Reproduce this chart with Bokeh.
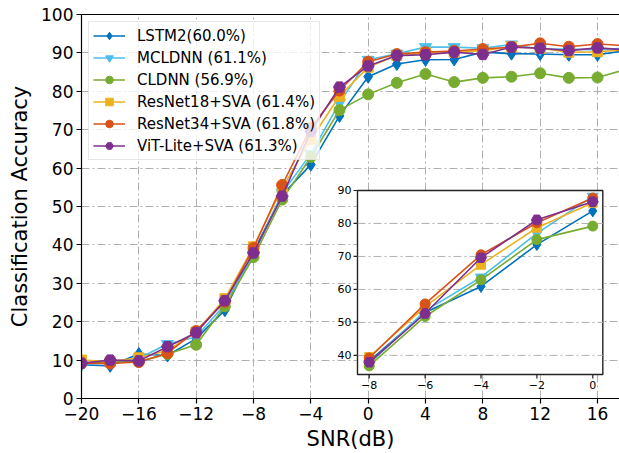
from math import pi
from bokeh.plotting import figure
from bokeh.models import Range1d, LinearAxis, FixedTicker, Legend, LegendItem
from bokeh.core.properties import value
from bokeh.embed import file_html
from bokeh.resources import INLINE

# ---------------- data ----------------
snr = [-20, -18, -16, -14, -12, -10, -8, -6, -4, -2, 0, 2, 4, 6, 8, 10, 12, 14, 16, 18]

lstm2 = [8.8, 8.5, 11.6, 11.2, 15.6, 23.0, 38.3, 53.0, 60.9, 73.6, 83.8, 87.1, 88.2, 88.3, 90.2, 89.8, 89.7, 89.5, 89.5, 90.6]
mcldnn = [9.0, 9.4, 10.5, 14.2, 16.0, 24.5, 37.5, 53.5, 63.7, 77.0, 88.2, 89.8, 91.5, 91.5, 91.2, 92.2, 91.0, 91.0, 90.8, 91.2]
cldnn = [9.2, 9.6, 9.6, 11.6, 14.0, 24.0, 36.8, 51.8, 62.9, 75.1, 79.2, 82.2, 84.5, 82.4, 83.5, 83.8, 84.7, 83.5, 83.6, 85.7]
resnet18 = [10.0, 9.6, 10.6, 12.5, 17.3, 26.0, 39.5, 54.8, 67.5, 78.7, 86.3, 89.3, 90.0, 90.2, 90.6, 91.6, 91.2, 90.2, 90.3, 90.8]
resnet34 = [9.2, 9.1, 9.5, 11.8, 17.6, 25.2, 39.2, 55.6, 70.5, 80.2, 87.7, 89.7, 90.2, 90.5, 91.0, 91.5, 92.5, 91.6, 92.3, 91.9]
vit = [9.2, 10.0, 9.8, 13.5, 17.1, 25.5, 37.9, 52.7, 69.6, 81.1, 86.6, 89.3, 89.5, 90.2, 89.6, 91.5, 91.2, 90.6, 91.3, 90.8]

labels = ["LSTM2(60.0%)", "MCLDNN (61.1%)", "CLDNN (56.9%)",
          "ResNet18+SVA (61.4%)", "ResNet34+SVA (61.8%)", "ViT-Lite+SVA (61.3%)"]

x_ticks = [-20, -16, -12, -8, -4, 0, 4, 8, 12, 16]
x_tick_labels = ["\u221220", "\u221216", "\u221212", "\u22128", "\u22124", "0", "4", "8", "12", "16"]
y_ticks = [0, 10, 20, 30, 40, 50, 60, 70, 80, 90, 100]

inset_x_ticks = [-8, -6, -4, -2, 0]
inset_x_tick_labels = ["\u22128", "\u22126", "\u22124", "\u22122", "0"]
inset_y_ticks = [40, 50, 60, 70, 80, 90]
inset_y_tick_labels = ["40", "50", "60", "70", "80", "90"]

# ---------------- styles ----------------
series = [lstm2, mcldnn, cldnn, resnet18, resnet34, vit]
colors = ["#0072BD", "#4DBEEE", "#77AC30", "#EDB120", "#D95319", "#7E2F8E"]
markers = ["diamond", "inverted_triangle", "circle", "square", "circle", "hex"]
msizes = [13, 12, 11, 10, 11, 12]
FONT = "DejaVu Sans"
GRID_DASH = "8 3 2 3"

p = figure(width=619, height=453,
           x_range=Range1d(-20, 17.535), y_range=Range1d(0, 100),
           output_backend="svg", toolbar_location=None,
           min_border_left=81, min_border_right=0, min_border_top=14, min_border_bottom=55)
p.outline_line_color = None
p.background_fill_color = "white"

p.xaxis.ticker = FixedTicker(ticks=x_ticks)
p.xaxis.major_label_overrides = {t: l for t, l in zip(x_ticks, x_tick_labels)}
p.yaxis.ticker = FixedTicker(ticks=y_ticks)
p.xaxis.axis_label = "SNR(dB)"
p.yaxis.axis_label = "Classification Accuracy"
for ax in (p.xaxis, p.yaxis):
    ax.axis_label_text_font = FONT
    ax.axis_label_text_font_size = "21px"
    ax.axis_label_text_font_style = "normal"
    ax.axis_label_text_color = "black"
    ax.major_label_text_font = FONT
    ax.major_label_text_font_size = "17px"
    ax.major_label_text_color = "black"
    ax.axis_line_color = "black"
    ax.axis_line_width = 1.2
    ax.major_tick_line_color = "black"
    ax.major_tick_line_width = 1.2
    ax.major_tick_out = 5
    ax.major_tick_in = 0
    ax.minor_tick_line_color = None
    ax.major_label_standoff = 3
p.xaxis.axis_label_standoff = 4
p.yaxis.axis_label_standoff = 6

top_axis = LinearAxis(ticker=FixedTicker(ticks=[]), axis_line_color="black", axis_line_width=1.2,
                      major_tick_line_color=None, minor_tick_line_color=None,
                      major_label_text_font_size="0px")
p.add_layout(top_axis, "above")

p.xgrid.ticker = FixedTicker(ticks=x_ticks)
p.ygrid.ticker = FixedTicker(ticks=y_ticks)
for g in (p.xgrid, p.ygrid):
    g.grid_line_color = "#b0b0b0"
    g.grid_line_dash = GRID_DASH
    g.grid_line_width = 1

items = []
for ys, c, m, s, lab in zip(series, colors, markers, msizes, labels):
    lr = p.line(snr, ys, line_color=c, line_width=1.6)
    sr = p.scatter(snr, ys, marker=m, size=s, fill_color=c, line_color=c)
    items.append(LegendItem(label=lab, renderers=[lr, sr]))

# ---------------- inset ----------------
ix0, ix1 = -8.42, 0.36
iy0, iy1 = 34.2, 90.0
fx0, fx1 = 0.513, 0.969
fy0, fy1 = 0.0625, 0.5417
span_x = (ix1 - ix0) / (fx1 - fx0)
span_y = (iy1 - iy0) / (fy1 - fy0)
xs0 = ix0 - fx0 * span_x
ys0 = iy0 - fy0 * span_y
p.extra_x_ranges = {"ix": Range1d(xs0, xs0 + span_x)}
p.extra_y_ranges = {"iy": Range1d(ys0, ys0 + span_y)}
kw = dict(x_range_name="ix", y_range_name="iy")

p.quad(left=[ix0], right=[ix1], bottom=[iy0], top=[iy1],
       fill_color="white", line_color="#222222", line_width=1.4, **kw)
grid_levels = [t for t in inset_y_ticks if t < iy1]
p.segment(x0=[ix0] * len(grid_levels), x1=[ix1] * len(grid_levels), y0=grid_levels, y1=grid_levels,
          line_color="#b0b0b0", line_dash=GRID_DASH, line_width=1, **kw)

sel = [i for i, v in enumerate(snr) if -8 <= v <= 0]
isnr = [snr[i] for i in sel]
for ys, c, m, s in zip(series, colors, markers, msizes):
    iys = [ys[i] for i in sel]
    p.line(isnr, iys, line_color=c, line_width=1.6, **kw)
    p.scatter(isnr, iys, marker=m, size=s - 1, fill_color=c, line_color=c, **kw)

p.ray(x=[ix0] * len(inset_y_ticks), y=inset_y_ticks, length=4, length_units="screen",
      angle=pi, line_color="#222222", line_width=1.2, **kw)
p.ray(x=inset_x_ticks, y=[iy0] * len(inset_x_ticks), length=4, length_units="screen",
      angle=-pi / 2, line_color="#222222", line_width=1.2, **kw)
p.text(x=[ix0] * len(inset_y_ticks), y=inset_y_ticks, text=inset_y_tick_labels,
       x_offset=-6, text_align="right", text_baseline="middle",
       text_font=value(FONT), text_font_size="11px", text_color="black", **kw)
p.text(x=inset_x_ticks, y=[iy0] * len(inset_x_ticks), text=inset_x_tick_labels,
       y_offset=6, text_align="center", text_baseline="top",
       text_font=value(FONT), text_font_size="11px", text_color="black", **kw)

# ---------------- legend ----------------
legend = Legend(items=items, location="top_left", margin=7, padding=4, spacing=3,
                label_text_font=FONT, label_text_font_size="15px", label_text_color="black",
                glyph_width=32, glyph_height=19, label_height=19, label_standoff=12,
                border_line_color="#d0d0d0", border_line_width=1,
                background_fill_color="white", background_fill_alpha=0.8)
p.add_layout(legend)

open("out.html", "w").write(file_html(p, INLINE))
